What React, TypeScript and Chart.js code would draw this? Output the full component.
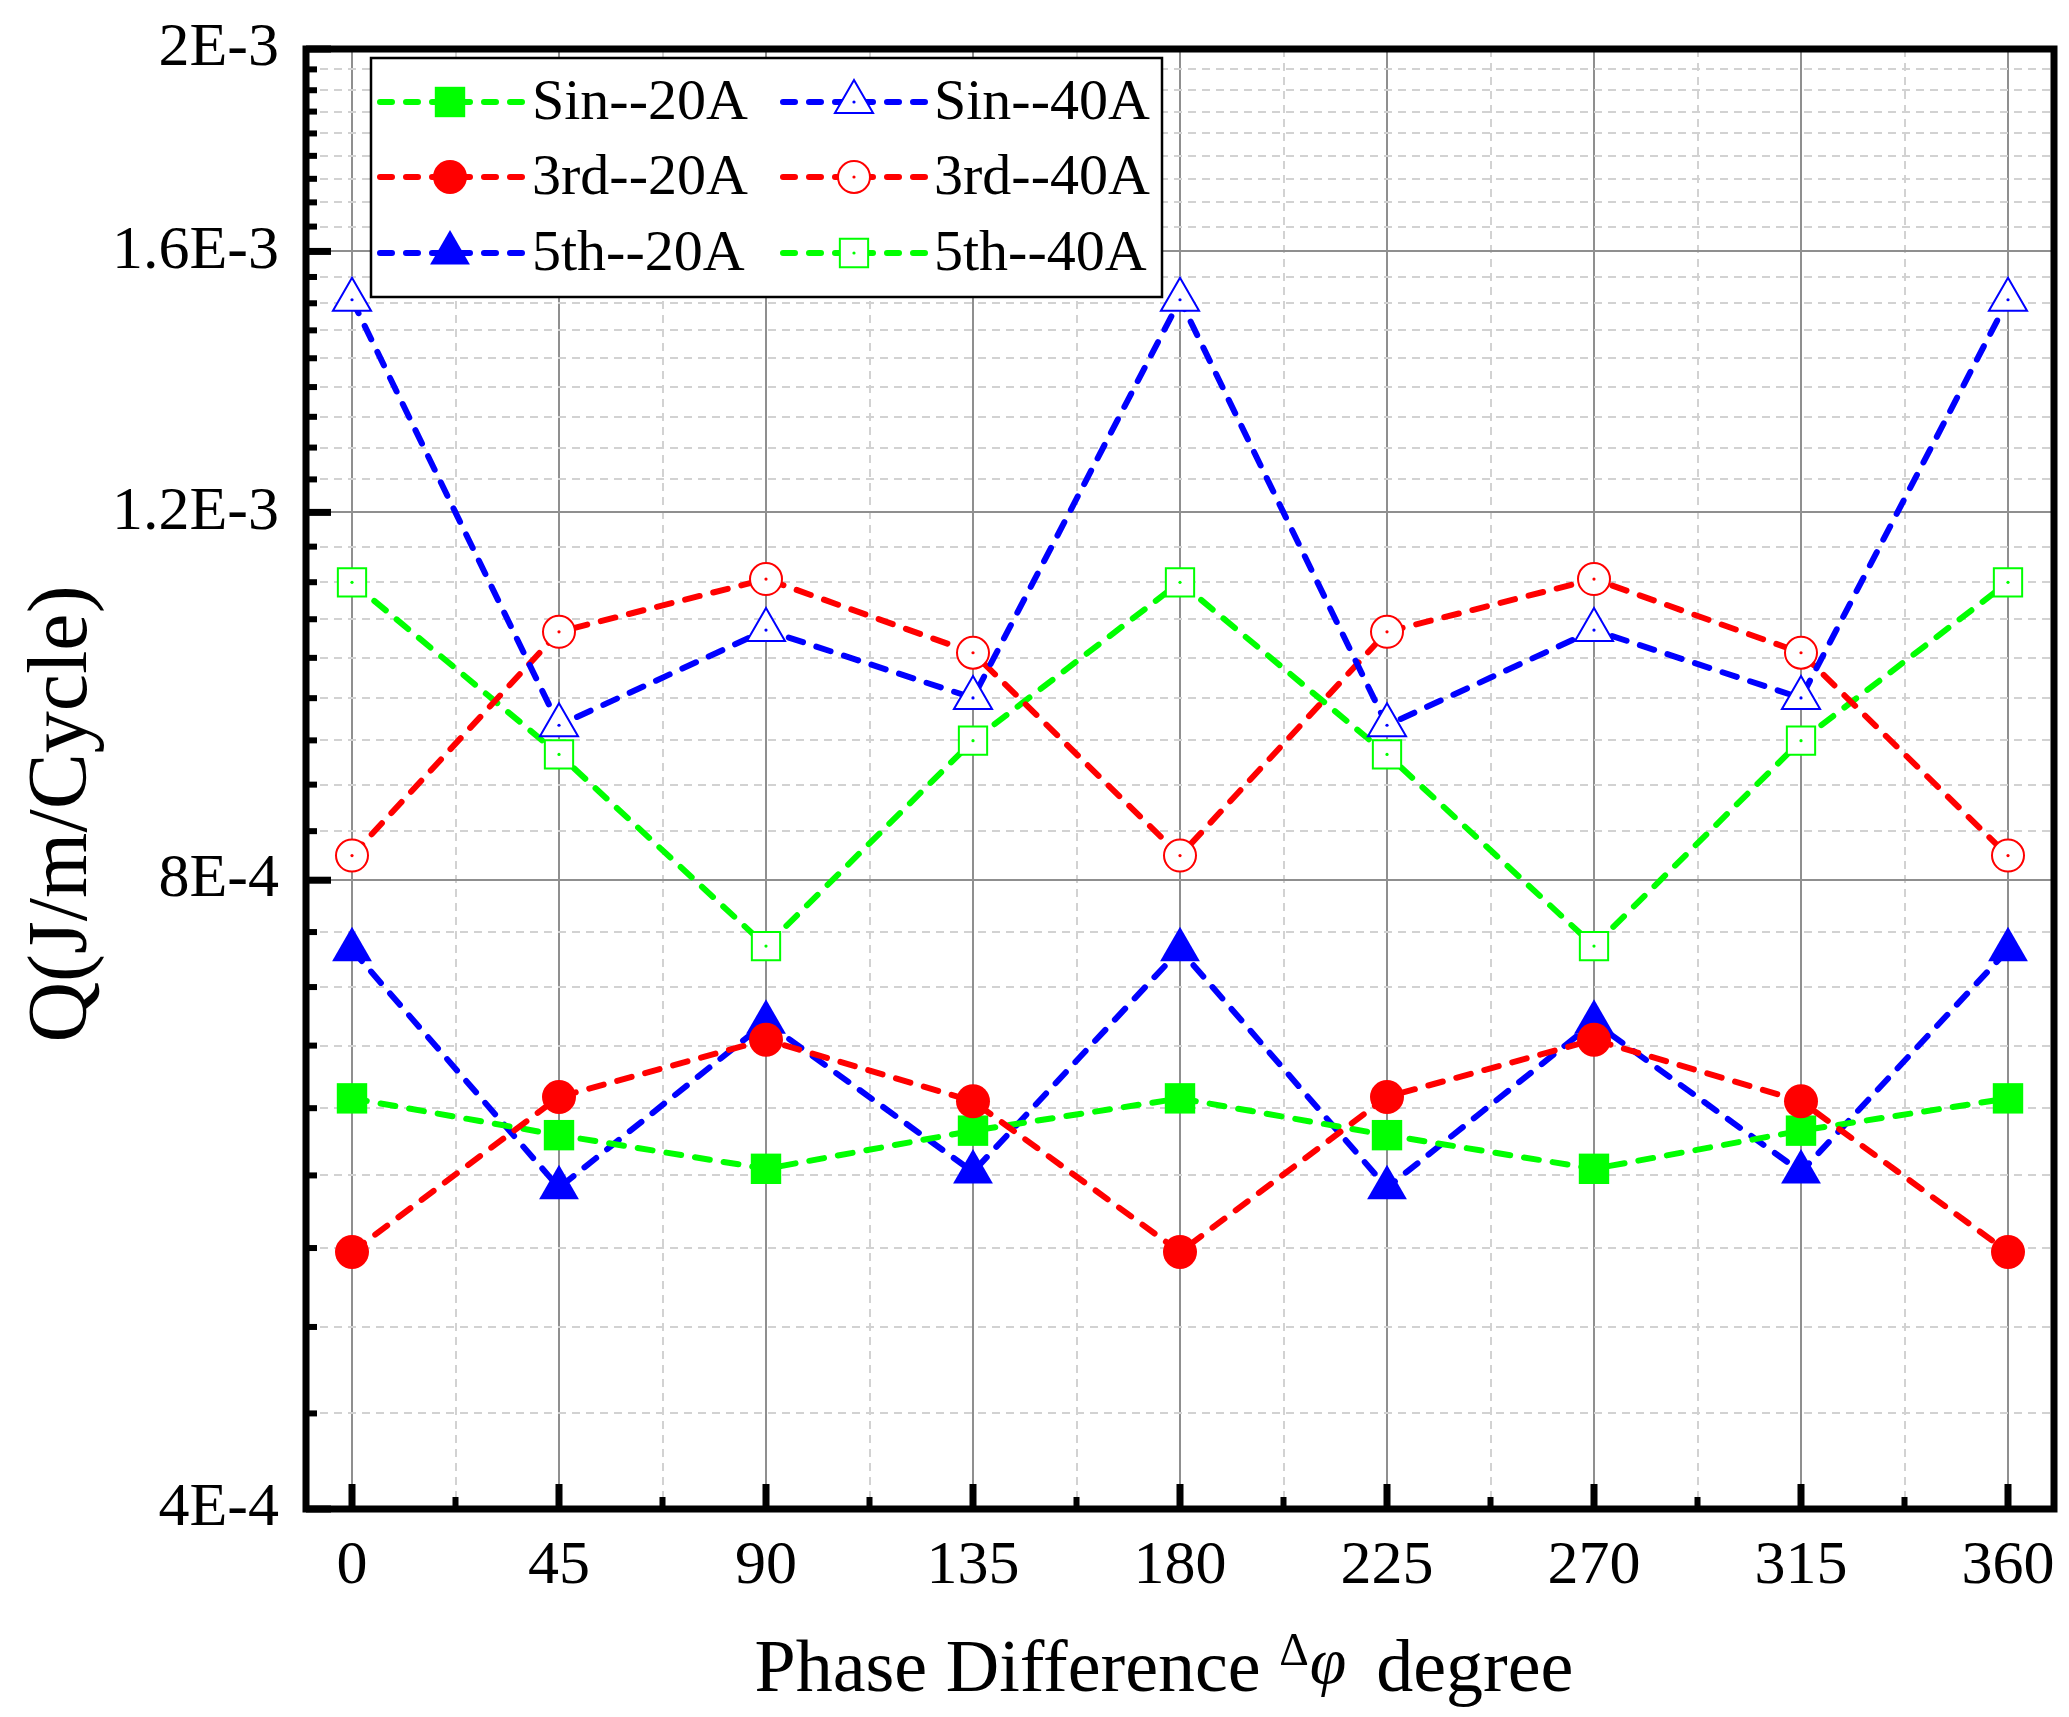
import React, { useEffect, useRef } from 'react';
import { Chart, registerables } from 'chart.js';

Chart.register(...registerables);

// ---------- data ----------
const phaseDeg = [0, 45, 90, 135, 180, 225, 270, 315, 360];

const sin20A = [6.29e-4, 6.04e-4, 5.82e-4, 6.07e-4, 6.29e-4, 6.04e-4, 5.82e-4, 6.07e-4, 6.29e-4];
const third20A = [5.31e-4, 6.30e-4, 6.71e-4, 6.27e-4, 5.31e-4, 6.30e-4, 6.71e-4, 6.27e-4, 5.31e-4];
const fifth20A = [7.41e-4, 5.70e-4, 6.84e-4, 5.80e-4, 7.41e-4, 5.70e-4, 6.84e-4, 5.80e-4, 7.41e-4];
const sin40A = [1.517e-3, 9.49e-4, 1.054e-3, 9.78e-4, 1.517e-3, 9.49e-4, 1.054e-3, 9.78e-4, 1.517e-3];
const third40A = [8.22e-4, 1.052e-3, 1.115e-3, 1.028e-3, 8.22e-4, 1.052e-3, 1.115e-3, 1.028e-3, 8.22e-4];
const fifth40A = [1.111e-3, 9.19e-4, 7.44e-4, 9.33e-4, 1.111e-3, 9.19e-4, 7.44e-4, 9.33e-4, 1.111e-3];

const seriesLabels = ['Sin--20A', '3rd--20A', '5th--20A', 'Sin--40A', '3rd--40A', '5th--40A'];

const xMajorTicks = [0, 45, 90, 135, 180, 225, 270, 315, 360];
const xMinorTicks = [22.5, 67.5, 112.5, 157.5, 202.5, 247.5, 292.5, 337.5];
const yMajorTicks = [4e-4, 8e-4, 1.2e-3, 1.6e-3, 2e-3];
const yTickLabels = ['4E-4', '8E-4', '1.2E-3', '1.6E-3', '2E-3'];
const yMinorPerMajor = 8;

const xTitleParts = ['Phase Difference ', 'Δ', 'φ', 'degree'];
const yTitle = 'Q(J/m/Cycle)';

// ---------- style ----------
const SERIF = "'Liberation Serif', 'Times New Roman', serif";
const GREEN = '#00ff00';
const RED = '#ff0000';
const BLUE = '#0000ff';

const W = 2069;
const H = 1717;

const isMajorX = (v: number) => xMajorTicks.some((m) => Math.abs(m - v) < 1e-6);
const majorYIndex = (v: number) => yMajorTicks.findIndex((m) => Math.abs(m - v) / m < 1e-6);

const yAllTicks: number[] = (() => {
  const out: number[] = [];
  for (let i = 0; i < yMajorTicks.length; i++) {
    out.push(yMajorTicks[i]);
    if (i < yMajorTicks.length - 1) {
      const a = yMajorTicks[i];
      const b = yMajorTicks[i + 1];
      for (let k = 1; k <= yMinorPerMajor; k++) out.push(a + ((b - a) * k) / (yMinorPerMajor + 1));
    }
  }
  return out;
})();
const xAllTicks = [...xMajorTicks, ...xMinorTicks].sort((a, b) => a - b);

type SeriesStyle = {
  label: string;
  values: number[];
  color: string;
  style: 'rect' | 'circle' | 'triangle';
  open: boolean;
  radius: number;
  order: number;
};

const seriesList: SeriesStyle[] = [
  { label: seriesLabels[0], values: sin20A, color: GREEN, style: 'rect', open: false, radius: 21.5, order: 2 },
  { label: seriesLabels[1], values: third20A, color: RED, style: 'circle', open: false, radius: 17, order: 1 },
  { label: seriesLabels[2], values: fifth20A, color: BLUE, style: 'triangle', open: false, radius: 23, order: 3 },
  { label: seriesLabels[3], values: sin40A, color: BLUE, style: 'triangle', open: true, radius: 22, order: 4 },
  { label: seriesLabels[4], values: third40A, color: RED, style: 'circle', open: true, radius: 16, order: 5 },
  { label: seriesLabels[5], values: fifth40A, color: GREEN, style: 'rect', open: true, radius: 20, order: 6 },
];

const LINE_W = 6;
const LINE_DASH = [15, 14];

function drawMarker(ctx: CanvasRenderingContext2D, s: SeriesStyle, x: number, y: number) {
  const r = s.radius;
  ctx.beginPath();
  if (s.style === 'circle') {
    ctx.arc(x, y, r, 0, Math.PI * 2);
  } else if (s.style === 'rect') {
    const h = Math.SQRT1_2 * r;
    ctx.rect(x - h, y - h, 2 * h, 2 * h);
  } else {
    const dx = Math.cos(Math.PI / 6) * r;
    ctx.moveTo(x, y - r);
    ctx.lineTo(x + dx, y + r / 2);
    ctx.lineTo(x - dx, y + r / 2);
    ctx.closePath();
  }
  if (s.open) {
    ctx.fillStyle = '#ffffff';
    ctx.fill();
    ctx.lineWidth = 2;
    ctx.strokeStyle = s.color;
    ctx.stroke();
    ctx.beginPath();
    ctx.arc(x, y, 1.6, 0, Math.PI * 2);
    ctx.fillStyle = s.color;
    ctx.fill();
  } else {
    ctx.fillStyle = s.color;
    ctx.fill();
  }
}

const decorPlugin = {
  id: 'decor',
  afterDatasetsDraw(chart: any) {
    const { ctx } = chart;
    ctx.save();
    chart.data.datasets.forEach((ds: any, i: number) => {
      if (!ds._open) return;
      const meta = chart.getDatasetMeta(i);
      meta.data.forEach((pt: any) => {
        ctx.beginPath();
        ctx.arc(pt.x, pt.y, 1.6, 0, Math.PI * 2);
        ctx.fillStyle = ds.borderColor;
        ctx.fill();
      });
    });
    ctx.restore();
  },
  afterDraw(chart: any) {
    const { ctx, chartArea: a, scales } = chart;
    const xs = scales.x;
    const ys = scales.y;
    ctx.save();
    ctx.fillStyle = '#000';
    // inward ticks
    xs.ticks.forEach((t: any) => {
      const px = xs.getPixelForValue(t.value);
      const major = isMajorX(t.value);
      const len = major ? 25 : 12;
      const w = major ? 7 : 6;
      ctx.fillRect(px - w / 2, a.bottom - len, w, len);
    });
    ys.ticks.forEach((t: any) => {
      const py = ys.getPixelForValue(t.value);
      const major = majorYIndex(t.value) >= 0;
      const len = major ? 25 : 11;
      const w = major ? 7 : 6;
      ctx.fillRect(a.left, py - w / 2, len, w);
    });
    // frame
    ctx.lineWidth = 7;
    ctx.strokeStyle = '#000';
    ctx.strokeRect(a.left, a.top, a.right - a.left, a.bottom - a.top);

    // legend
    const box = { l: 371, t: 58, r: 1162, b: 297 };
    ctx.fillStyle = '#fff';
    ctx.fillRect(box.l, box.t, box.r - box.l, box.b - box.t);
    ctx.lineWidth = 2.5;
    ctx.strokeStyle = '#000';
    ctx.strokeRect(box.l, box.t, box.r - box.l, box.b - box.t);
    const rows = [102, 177, 253];
    const cols = [
      { x0: 376, x1: 525, mx: 450, tx: 532 },
      { x0: 779, x1: 928, mx: 854, tx: 934 },
    ];
    seriesList.forEach((s, i) => {
      const c = cols[Math.floor(i / 3)];
      const y = rows[i % 3];
      ctx.save();
      ctx.beginPath();
      ctx.rect(c.x0 - 4, y - 10, c.x1 - c.x0 + 8, 20);
      ctx.clip();
      ctx.beginPath();
      ctx.setLineDash([12, 14]);
      ctx.lineCap = 'round';
      ctx.lineWidth = LINE_W;
      ctx.strokeStyle = s.color;
      ctx.moveTo(c.x0 + 4, y);
      ctx.lineTo(c.x1, y);
      ctx.stroke();
      ctx.restore();
      drawMarker(ctx, s, c.mx, y);
      ctx.fillStyle = '#000';
      ctx.font = `58px ${SERIF}`;
      ctx.textAlign = 'left';
      ctx.textBaseline = 'middle';
      ctx.fillText(s.label, c.tx, y + 2);
    });

    // x title
    const parts = [
      { text: xTitleParts[0], font: `74px ${SERIF}`, dy: 0, gapAfter: 0 },
      { text: xTitleParts[1], font: `46px ${SERIF}`, dy: -26, gapAfter: 1 },
      { text: xTitleParts[2], font: `italic 66px ${SERIF}`, dy: -8, gapAfter: 30 },
      { text: xTitleParts[3], font: `74px ${SERIF}`, dy: 0, gapAfter: 0 },
    ];
    let total = 0;
    parts.forEach((p) => {
      ctx.font = p.font;
      total += ctx.measureText(p.text).width + p.gapAfter;
    });
    let cx = 1164 - total / 2;
    const baseY = 1691;
    ctx.fillStyle = '#000';
    ctx.textAlign = 'left';
    ctx.textBaseline = 'alphabetic';
    parts.forEach((p) => {
      ctx.font = p.font;
      ctx.fillText(p.text, cx, baseY + p.dy);
      cx += ctx.measureText(p.text).width + p.gapAfter;
    });

    // y title
    ctx.save();
    ctx.translate(64, 814);
    ctx.rotate(-Math.PI / 2);
    ctx.font = `84px ${SERIF}`;
    ctx.textAlign = 'center';
    ctx.textBaseline = 'middle';
    ctx.fillText(yTitle, 0, 0);
    ctx.restore();

    ctx.restore();
  },
};

export default function App() {
  const ref = useRef<HTMLCanvasElement>(null);

  useEffect(() => {
    if (!ref.current) return;
    const datasets = seriesList.map((s) => ({
      label: s.label,
      data: phaseDeg.map((x, i) => ({ x, y: s.values[i] })),
      borderColor: s.color,
      backgroundColor: s.color,
      borderWidth: LINE_W,
      borderDash: LINE_DASH,
      borderCapStyle: 'round' as const,
      tension: 0,
      fill: false,
      pointStyle: s.style,
      pointRadius: s.radius,
      pointHoverRadius: s.radius,
      pointBackgroundColor: s.open ? '#ffffff' : s.color,
      pointBorderColor: s.color,
      pointBorderWidth: s.open ? 2 : 0,
      order: s.order,
      _open: s.open,
    }));

    const zeroPad = (scale: any) => {
      scale.paddingTop = 0;
      scale.paddingBottom = 0;
      scale.paddingLeft = 0;
      scale.paddingRight = 0;
    };

    const chart = new Chart(ref.current, {
      type: 'line',
      data: { datasets: datasets as any },
      plugins: [decorPlugin as any],
      options: {
        responsive: false,
        animation: false,
        events: [],
        layout: { autoPadding: false, padding: { top: 49, right: 15, left: 0, bottom: 0 } },
        plugins: {
          legend: { display: false },
          tooltip: { enabled: false },
          title: { display: false },
        },
        scales: {
          x: {
            type: 'linear',
            min: -10,
            max: 370,
            afterBuildTicks: (scale: any) => {
              scale.ticks = xAllTicks.map((v) => ({ value: v }));
            },
            afterFit: (scale: any) => {
              scale.height = H - 1509;
              zeroPad(scale);
            },
            ticks: {
              autoSkip: false,
              maxRotation: 0,
              minRotation: 0,
              padding: 21,
              color: '#000',
              font: { family: SERIF, size: 62 },
              callback: (v: any) => (isMajorX(Number(v)) ? String(v) : ''),
            },
            grid: {
              drawTicks: false,
              lineWidth: 2,
              color: (c: any) => (c.tick && isMajorX(c.tick.value) ? '#8f8f8f' : '#d2d2d2'),
            },
            border: {
              display: false,
              dash: (c: any) => (c.tick && isMajorX(c.tick.value) ? [] : [8, 6]),
            },
            title: { display: false },
          },
          y: {
            type: 'logarithmic',
            min: 4e-4,
            max: 2e-3,
            afterBuildTicks: (scale: any) => {
              scale.ticks = yAllTicks.map((v) => ({ value: v }));
            },
            afterFit: (scale: any) => {
              scale.width = 306;
              zeroPad(scale);
            },
            ticks: {
              autoSkip: false,
              padding: 27,
              color: '#000',
              font: { family: SERIF, size: 62 },
              callback: (v: any) => {
                const i = majorYIndex(Number(v));
                return i >= 0 ? yTickLabels[i] : '';
              },
            },
            grid: {
              drawTicks: false,
              lineWidth: 2,
              color: (c: any) => (c.tick && majorYIndex(c.tick.value) >= 0 ? '#8f8f8f' : '#d2d2d2'),
            },
            border: {
              display: false,
              dash: (c: any) => (c.tick && majorYIndex(c.tick.value) >= 0 ? [] : [8, 6]),
            },
            title: { display: false },
          },
        },
      },
    } as any);

    return () => chart.destroy();
  }, []);

  return (
    <div style={{ position: 'fixed', left: 0, top: 0, width: W, height: H, background: '#fff' }}>
      <canvas ref={ref} width={W} height={H} style={{ display: 'block', width: W, height: H }} />
    </div>
  );
}
